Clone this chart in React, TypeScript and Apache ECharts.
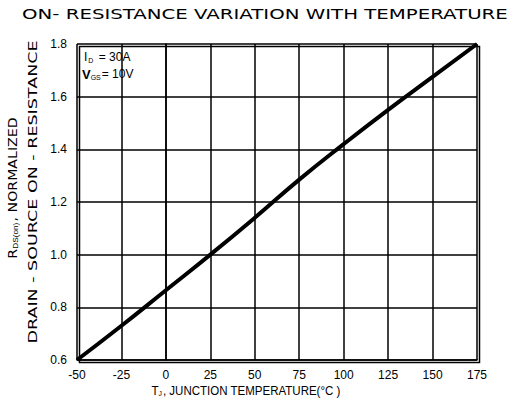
import React, { useEffect, useRef } from "react";
import * as echarts from "echarts";

const temperatures = [-50, -25, 0, 25, 50, 75, 100, 125, 150, 175];
const resistance = [0.6, 0.73, 0.865, 1.0, 1.14, 1.285, 1.42, 1.55, 1.675, 1.8];
const titleText = "ON- RESISTANCE VARIATION WITH TEMPERATURE";
const conditionId = "30A";
const conditionVgs = "10V";

export default function App() {
  const ref = useRef<HTMLDivElement>(null);
  useEffect(() => {
    if (!ref.current) return;
    const chart = echarts.init(ref.current, null, { renderer: "svg" });
    const font = "Liberation Sans";
    chart.setOption({
      animation: false,
      backgroundColor: "#ffffff",
      grid: { left: 77, right: 42, top: 44, bottom: 40 },
      xAxis: {
        type: "value",
        min: -50,
        max: 175,
        interval: 25,
        axisLine: { show: true, lineStyle: { color: "#000", width: 1.5 } },
        axisTick: { show: false },
        splitLine: { show: true, lineStyle: { color: "#000", width: 1.5 } },
        axisLabel: { color: "#000", fontFamily: font, fontSize: 12, margin: 9 },
      },
      yAxis: {
        type: "value",
        min: 0.6,
        max: 1.8,
        interval: 0.2,
        axisLine: { show: true, lineStyle: { color: "#000", width: 1.5 } },
        axisTick: { show: false },
        splitLine: { show: true, lineStyle: { color: "#000", width: 1.5 } },
        axisLabel: {
          color: "#000",
          fontFamily: font,
          fontSize: 12,
          margin: 10,
          formatter: (v: number) => v.toFixed(1),
        },
      },
      series: [
        {
          type: "line",
          data: temperatures.map((t, i) => [t, resistance[i]]),
          showSymbol: false,
          smooth: true,
          lineStyle: { color: "#000", width: 4 },
        },
      ],
      graphic: [
        {
          type: "rect",
          left: 77,
          top: 44,
          shape: { width: 400, height: 316 },
          style: { fill: "none", stroke: "#000", lineWidth: 1.5 },
          silent: true,
        },
        {
          type: "text",
          x: 22,
          y: 14,
          scaleX: 1.41,
          style: {
            text: titleText,
            fontFamily: "DejaVu Sans",
            fontSize: 14,
            fill: "#000",
            textVerticalAlign: "middle",
          },
        },
        {
          type: "text",
          x: 84,
          y: 57,
          style: {
            text: "{m|I}{s|D}{m| = " + conditionId + "}",
            textVerticalAlign: "middle",
            rich: {
              m: { fontFamily: font, fontSize: 12, fill: "#000" },
              s: { fontFamily: font, fontSize: 7, fill: "#000", padding: [6, 2, 0, 1] },
            },
          },
        },
        {
          type: "text",
          x: 82,
          y: 74,
          style: {
            text: "{b|V}{s|GS}{m|= " + conditionVgs + "}",
            textVerticalAlign: "middle",
            rich: {
              b: { fontFamily: font, fontSize: 13, fontWeight: "bold", fill: "#000" },
              m: { fontFamily: font, fontSize: 12, fill: "#000" },
              s: { fontFamily: font, fontSize: 7, fill: "#000", padding: [6, 1, 0, 0] },
            },
          },
        },
        {
          type: "text",
          x: 13,
          y: 188,
          rotation: Math.PI / 2,
          scaleX: 1.18,
          style: {
            text: "{m|R}{s|DS(on)}{m|, NORMALIZED}",
            textAlign: "center",
            textVerticalAlign: "middle",
            rich: {
              m: { fontFamily: "DejaVu Sans", fontSize: 12, fill: "#000" },
              s: { fontFamily: font, fontSize: 7, fill: "#000", padding: [6, 1, 0, 0] },
            },
          },
        },
        {
          type: "text",
          x: 33,
          y: 192,
          rotation: Math.PI / 2,
          scaleX: 1.46,
          style: {
            text: "DRAIN - SOURCE ON - RESISTANCE",
            fontFamily: "DejaVu Sans",
            fontSize: 12,
            fill: "#000",
            textAlign: "center",
            textVerticalAlign: "middle",
          },
        },
        {
          type: "text",
          x: 246,
          y: 390,
          scaleX: 0.96,
          style: {
            text: "{m|T}{s|J}{m|, JUNCTION TEMPERATURE(°C )}",
            textAlign: "center",
            textVerticalAlign: "middle",
            rich: {
              m: { fontFamily: font, fontSize: 12, fill: "#000" },
              s: { fontFamily: font, fontSize: 7, fill: "#000", padding: [6, 1, 0, 0] },
            },
          },
        },
      ],
    });
    return () => chart.dispose();
  }, []);
  return <div ref={ref} style={{ width: 519, height: 400, position: "absolute", left: 0, top: 0 }} />;
}
